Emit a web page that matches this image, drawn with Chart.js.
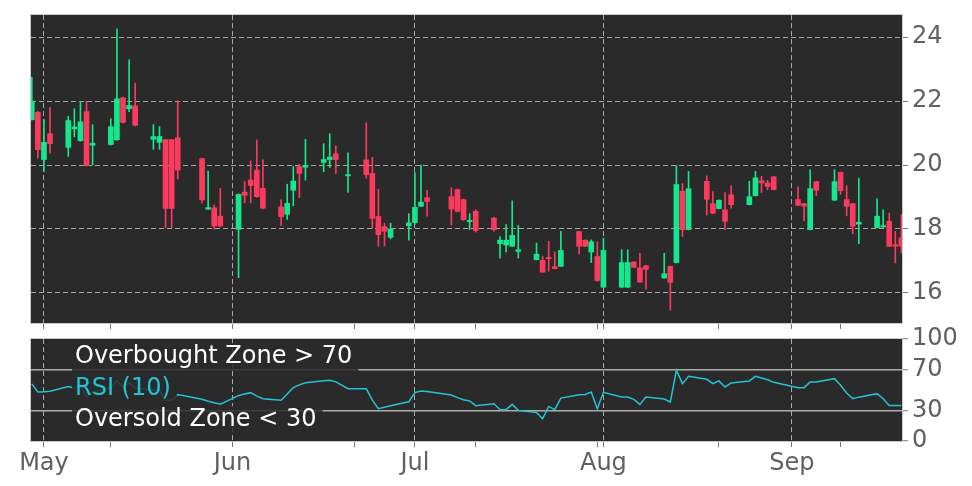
<!DOCTYPE html>
<html>
<head>
<meta charset="utf-8">
<script src="https://cdn.jsdelivr.net/npm/chart.js@4.4.1/dist/chart.umd.min.js"></script>
<style>
  html, body { margin: 0; padding: 0; background: #fff; }
  #wrap { position: relative; width: 972px; height: 486px; overflow: hidden; }
  canvas { position: absolute; left: 0; }
  #price { top: 0; }
  #rsi { top: 316px; }
</style>
</head>
<body>
<div id="wrap">
  <canvas id="price" width="972" height="332"></canvas>
  <canvas id="rsi" width="972" height="170"></canvas>
</div>
<script>
// trading days shown
const dates = [
  "2025-04-29","2025-04-30","2025-05-01","2025-05-02",
  "2025-05-05","2025-05-06","2025-05-07","2025-05-08","2025-05-09",
  "2025-05-12","2025-05-13","2025-05-14","2025-05-15","2025-05-16",
  "2025-05-19","2025-05-20","2025-05-21","2025-05-22","2025-05-23",
  "2025-05-27","2025-05-28","2025-05-29","2025-05-30",
  "2025-06-02","2025-06-03","2025-06-04","2025-06-05","2025-06-06",
  "2025-06-09","2025-06-10","2025-06-11","2025-06-12","2025-06-13",
  "2025-06-16","2025-06-17","2025-06-18","2025-06-20",
  "2025-06-23","2025-06-24","2025-06-25","2025-06-26","2025-06-27",
  "2025-06-30","2025-07-01","2025-07-02","2025-07-03",
  "2025-07-07","2025-07-08","2025-07-09","2025-07-10","2025-07-11",
  "2025-07-14","2025-07-15","2025-07-16","2025-07-17","2025-07-18",
  "2025-07-21","2025-07-22","2025-07-23","2025-07-24","2025-07-25",
  "2025-07-28","2025-07-29","2025-07-30","2025-07-31","2025-08-01",
  "2025-08-04","2025-08-05","2025-08-06","2025-08-07","2025-08-08",
  "2025-08-11","2025-08-12","2025-08-13","2025-08-14","2025-08-15",
  "2025-08-18","2025-08-19","2025-08-20","2025-08-21","2025-08-22",
  "2025-08-25","2025-08-26","2025-08-27","2025-08-28","2025-08-29",
  "2025-09-02","2025-09-03","2025-09-04","2025-09-05",
  "2025-09-08","2025-09-09","2025-09-10","2025-09-11","2025-09-12",
  "2025-09-15","2025-09-16","2025-09-17","2025-09-18","2025-09-19"
];
const opens = [
  21.42,21.65,20.17,20.98,
  20.55,21.13,20.76,21.67,20.62,
  20.64,20.79,22.10,21.76,21.85,
  20.80,20.71,20.79,20.79,20.85,
  20.20,18.62,18.66,18.40,
  17.99,19.15,19.53,19.84,19.27,
  18.69,18.46,19.21,19.95,19.93,
  20.08,20.17,20.35,19.66,
  20.16,19.74,18.39,18.07,17.74,
  18.10,18.20,18.71,18.98,
  19.01,19.23,18.92,18.23,18.55,
  18.34,17.54,17.50,17.46,17.30,
  17.04,17.02,17.11,16.82,16.83,
  17.92,17.65,17.28,17.14,16.18,
  16.18,16.18,16.97,16.78,16.85,
  16.47,16.83,16.95,19.18,17.98,
  19.49,18.79,18.64,18.60,19.07,
  18.76,19.04,19.51,19.44,19.63,
  18.92,18.79,17.98,19.48,
  18.90,19.77,18.92,18.79,18.15,
  18.04,18.06,18.24,17.51,17.72
];
const highs = [
  22.74,21.68,21.42,21.80,
  21.52,21.76,21.99,21.99,21.26,
  21.44,24.26,22.12,23.29,22.56,
  21.26,21.20,20.80,20.80,22.01,
  20.22,19.81,18.75,19.27,
  19.10,19.48,20.13,20.78,20.16,
  18.91,19.40,19.95,20.02,20.80,
  20.67,20.98,20.60,20.38,
  21.32,20.24,19.24,18.18,18.18,
  18.48,19.76,20.00,19.21,
  19.29,19.25,18.94,18.48,18.60,
  18.36,17.76,18.14,18.88,18.11,
  17.56,17.15,17.61,17.28,17.93,
  17.93,17.66,17.66,17.60,17.71,
  17.35,17.35,16.98,17.24,16.86,
  17.24,16.84,19.98,19.42,19.80,
  19.66,19.17,18.91,19.14,19.35,
  19.49,19.80,19.65,19.52,19.64,
  19.32,18.80,19.85,19.49,
  19.85,19.78,19.35,18.80,19.59,
  18.94,18.60,18.50,17.93,18.45
];
const lows = [
  21.40,20.22,19.80,20.37,
  20.27,20.88,20.74,19.97,20.00,
  20.62,20.77,21.31,21.67,21.22,
  20.49,20.49,18.04,18.04,19.56,
  18.81,18.60,18.00,18.07,
  16.48,18.82,18.82,18.99,18.63,
  18.11,18.30,18.72,18.98,19.53,
  19.79,19.92,19.74,19.14,
  19.59,18.02,17.46,17.47,17.69,
  17.65,18.14,18.70,18.40,
  18.12,18.53,18.27,17.98,17.90,
  17.93,17.09,17.28,17.45,17.09,
  17.03,16.64,16.68,16.75,16.82,
  17.22,17.45,16.95,16.36,16.17,
  16.17,16.17,16.79,16.33,16.12,
  16.46,15.46,16.94,17.76,17.97,
  18.44,18.48,18.63,17.98,18.65,
  18.75,19.03,19.13,19.23,19.22,
  18.73,18.25,17.97,19.04,
  18.89,19.08,18.41,17.85,17.54,
  18.03,18.05,17.45,16.94,17.25
];
const closes = [
  22.00,20.48,20.71,20.67,
  21.39,21.19,21.35,19.98,20.68,
  21.20,22.07,21.33,21.86,21.24,
  20.89,20.89,18.64,18.64,19.84,
  18.91,18.67,18.09,18.09,
  19.08,19.05,19.36,19.01,18.65,
  18.38,18.80,19.50,19.74,19.99,
  20.17,20.25,20.17,19.70,
  19.70,18.33,17.82,17.93,18.00,
  18.19,18.68,18.84,18.86,
  18.62,18.55,18.29,18.27,17.95,
  17.98,17.65,17.65,17.80,17.35,
  17.21,16.65,17.07,16.76,17.33,
  17.46,17.46,17.60,16.39,17.33,
  16.95,16.95,16.80,16.34,16.74,
  16.60,16.33,19.39,17.98,19.26,
  18.93,18.49,18.90,18.24,18.76,
  19.01,19.60,19.44,19.33,19.23,
  18.74,18.71,19.26,19.21,
  19.48,19.20,18.71,18.08,18.21,
  18.40,18.10,17.46,17.46,17.46
];
const rsiValues = [
  56,48,48.3,48.8,
  53.5,52,54,44,48,
  52,59,53,57,52,
  50,50,40,40,45.5,
  41,39,37.5,36,
  44.5,46,47.4,44,41.5,
  40,46,52.3,55,57,
  59,59.5,58,51.3,
  51.3,40,31.6,33,34.5,
  38.5,47.5,49,48.5,
  45,42.5,40.5,39.2,34.6,
  36.5,30.7,30.7,35.9,30,
  28,21.8,33.9,30.7,42.1,
  45.4,45.7,48,31.6,47.7,
  43.1,43.1,40.8,35.9,43.1,
  41.1,38.2,69.3,56.2,63.4,
  60.5,56.2,58.9,53,56.9,
  58.9,63.4,61.8,60,57.5,
  52.3,52.3,57.9,57.9,
  61.1,54.6,47,41.5,43,
  46.4,41.5,34.9,34.9,34.9
];
const monthLabels = ["May","Jun","Jul","Aug","Sep"];
const monthStarts = ["2025-05-01","2025-06-01","2025-07-01","2025-08-01","2025-09-01"];
const minorTickDates = ["2025-05-12","2025-06-21","2025-07-11","2025-07-31","2025-08-20","2025-09-09"];
const priceTicks = [16,18,20,22,24];
const rsiTicks = [0,30,70,100];
const overbought = 70;
const oversold = 30;
const rsiPeriod = 10;

const upColor = "#16e68c";
const downColor = "#fb3b5e";
const rsiColor = "#22c4d6";
const panelBg = "#2a2a2a";
const gridColor = "#a8a8a8";
const zoneColor = "#ababab";
const tickColor = "#777777";
const labelColor = "#606060";
const frameColor = "#c8c8c8";
const axisFont = { family: "DejaVu Sans", size: 24 };

const day0 = Date.UTC(2025, 4, 1);
function dayNum(s) {
  const p = s.split("-").map(Number);
  return (Date.UTC(p[0], p[1] - 1, p[2]) - day0) / 86400000;
}
const xs = dates.map(dayNum);
const xMin = xs[0] - 0.13;
const xMax = xs[xs.length - 1] + 0.1;
const majorDays = monthStarts.map(dayNum);
const xTickValues = majorDays.concat(minorTickDates.map(dayNum)).sort((a, b) => a - b);

function isMajor(v) { return majorDays.indexOf(v) >= 0; }

// keep the plot areas fixed: no extra room for overhanging labels
function noPadding(s) {
  s.paddingTop = 0; s.paddingBottom = 0; s.paddingLeft = 0; s.paddingRight = 0;
}

function xAxis(showLabels) {
  return {
    type: "linear", min: xMin, max: xMax, offset: false,
    afterBuildTicks: s => { s.ticks = xTickValues.map(v => ({ value: v })); },
    afterFit: s => { s.height = showLabels ? 45 : 9; noPadding(s); },
    grid: {
      offset: false,
      color: c => (c.tick && isMajor(c.tick.value)) ? gridColor : "transparent",
      lineWidth: 1, drawTicks: true, tickLength: 6, tickColor: tickColor, tickWidth: 1
    },
    border: { display: false, dash: [5, 3] },
    ticks: {
      display: showLabels, autoSkip: false, maxRotation: 0, padding: 2,
      color: labelColor, font: axisFont,
      callback: v => isMajor(v) ? monthLabels[majorDays.indexOf(v)] : ""
    }
  };
}

const panelPlugin = {
  id: "panel",
  beforeDraw(chart) {
    const { ctx, chartArea: a } = chart;
    ctx.save();
    ctx.fillStyle = panelBg;
    ctx.fillRect(a.left, a.top, a.right - a.left, a.bottom - a.top);
    ctx.restore();
  },
  afterDraw(chart) {
    const { ctx, chartArea: a } = chart;
    ctx.save();
    ctx.strokeStyle = frameColor;
    ctx.lineWidth = 1;
    ctx.strokeRect(Math.round(a.left) - 0.5, Math.round(a.top) - 0.5,
      Math.round(a.right - a.left) + 1, Math.round(a.bottom - a.top) + 1);
    ctx.restore();
  }
};

const candleColors = closes.map((c, i) => c >= opens[i] ? upColor : downColor);

new Chart(document.getElementById("price"), {
  type: "bar",
  data: {
    datasets: [
      {
        label: "body",
        data: xs.map((x, i) => ({ x: x, y: [opens[i], closes[i]] })),
        backgroundColor: candleColors,
        barThickness: 5, grouped: false, borderWidth: 0
      },
      {
        label: "wick",
        data: xs.map((x, i) => ({ x: x, y: [lows[i], highs[i]] })),
        backgroundColor: candleColors,
        barThickness: 1, grouped: false, borderWidth: 0
      }
    ]
  },
  options: {
    responsive: false,
    animation: false,
    layout: { padding: { left: 31, top: 15, right: 0, bottom: 0 } },
    plugins: { legend: { display: false }, tooltip: { enabled: false } },
    scales: {
      x: xAxis(false),
      y: {
        position: "right", min: 15.06, max: 24.69,
        afterBuildTicks: s => { s.ticks = priceTicks.map(v => ({ value: v })); },
        afterFit: s => { s.width = 70; noPadding(s); },
        grid: { color: gridColor, lineWidth: 1, drawTicks: true, tickLength: 6, tickColor: tickColor, tickWidth: 1 },
        border: { display: false, dash: [5, 3] },
        ticks: { color: labelColor, font: axisFont, padding: 4, callback: v => String(v) }
      }
    }
  },
  plugins: [panelPlugin]
});

const zoneLabels = [
  { text: "Overbought Zone > " + overbought, color: "#ffffff" },
  { text: "RSI (" + rsiPeriod + ")", color: rsiColor },
  { text: "Oversold Zone < " + oversold, color: "#ffffff" }
];

const rsiLegendPlugin = {
  id: "rsiLegend",
  afterDatasetsDraw(chart) {
    const { ctx, chartArea: a } = chart;
    const x0 = a.left + 44;
    const baselines = [24, 56, 87];
    ctx.save();
    ctx.font = "24px 'DejaVu Sans'";
    zoneLabels.forEach((l, i) => {
      const w = ctx.measureText(l.text).width;
      const by = a.top + baselines[i];
      ctx.fillStyle = "rgba(42,42,42,0.85)";
      ctx.fillRect(x0 - 3, by - 20, w + 9, 28);
    });
    ctx.textBaseline = "alphabetic";
    ctx.textAlign = "left";
    zoneLabels.forEach((l, i) => {
      ctx.fillStyle = l.color;
      ctx.fillText(l.text, x0, a.top + baselines[i]);
    });
    ctx.restore();
  }
};

new Chart(document.getElementById("rsi"), {
  type: "line",
  data: {
    datasets: [{
      label: "RSI (" + rsiPeriod + ")",
      data: xs.map((x, i) => ({ x: x, y: rsiValues[i] })),
      borderColor: rsiColor, borderWidth: 1.5,
      pointRadius: 0, tension: 0, fill: false
    }]
  },
  options: {
    responsive: false,
    animation: false,
    layout: { padding: { left: 31, top: 23, right: 0, bottom: 0 } },
    plugins: { legend: { display: false }, tooltip: { enabled: false } },
    scales: {
      x: xAxis(true),
      y: {
        position: "right", min: 0, max: 100,
        afterBuildTicks: s => { s.ticks = rsiTicks.map(v => ({ value: v })); },
        afterFit: s => { s.width = 70; noPadding(s); },
        grid: {
          color: c => (c.tick && (c.tick.value === overbought || c.tick.value === oversold)) ? zoneColor : "transparent",
          lineWidth: 1.5, drawTicks: true, tickLength: 6, tickColor: tickColor, tickWidth: 1
        },
        border: { display: false },
        ticks: { color: labelColor, font: axisFont, padding: 4, callback: v => String(v) }
      }
    }
  },
  plugins: [panelPlugin, rsiLegendPlugin]
});
</script>
</body>
</html>
